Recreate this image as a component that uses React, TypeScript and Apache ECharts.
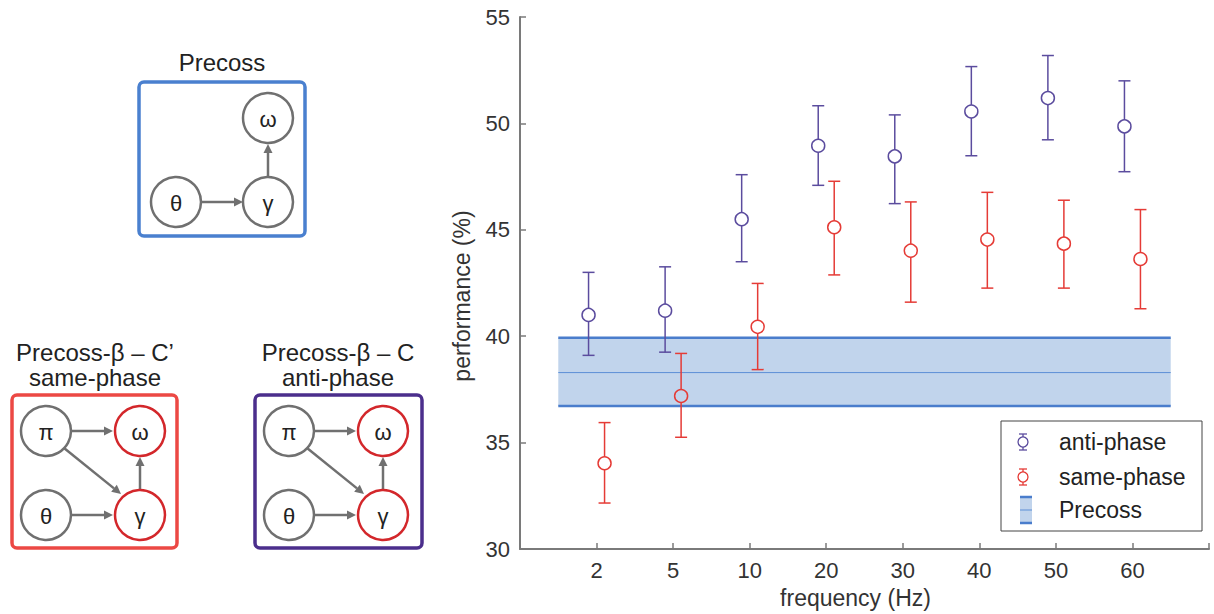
import React, { useEffect, useRef } from "react";
import * as echarts from "echarts";

const categories = ["2", "5", "10", "20", "30", "40", "50", "60"];
const antiMean = [41.0, 41.2, 45.5, 48.95, 48.45, 50.56, 51.19, 49.86];
const antiLow = [39.1, 39.25, 43.5, 47.09, 46.23, 48.48, 49.23, 47.73];
const antiHigh = [43.0, 43.26, 47.59, 50.83, 50.4, 52.67, 53.19, 52.0];
const sameMean = [34.03, 37.19, 40.44, 45.12, 44.02, 44.54, 44.35, 43.63];
const sameLow = [32.16, 35.25, 38.43, 42.88, 41.6, 42.26, 42.26, 41.29];
const sameHigh = [35.94, 39.19, 42.48, 47.28, 46.31, 46.76, 46.39, 45.95];
const precossMean = 38.29;
const precossLow = 36.72;
const precossHigh = 39.93;
const precossSpan = [0.5, 8.5];
const yTicks = [30, 35, 40, 45, 50, 55];
const legendNames = ["anti-phase", "same-phase", "Precoss"];

const FONT = "'Liberation Sans', Arial, sans-serif";
const ANTI = "#5b4c9e";
const SAME = "#e53b36";
const BAND_FILL = "#c1d4ec";
const BAND_LINE = "#4a7dcc";
const GRAY = "#707070";
const RED_NODE = "#d3272b";

function makeErr(color: string, dx: number) {
  return (params: any, api: any) => {
    const x = api.value(0);
    const m = api.value(1);
    const lo = api.value(2);
    const hi = api.value(3);
    const pm = api.coord([x, m]);
    const pl = api.coord([x, lo]);
    const ph = api.coord([x, hi]);
    const cx = pm[0] + dx;
    const r = 6.5;
    const cap = 6;
    const style = { stroke: color, lineWidth: 1.5, fill: "none" };
    return {
      type: "group",
      children: [
        { type: "line", shape: { x1: cx, y1: ph[1], x2: cx, y2: pm[1] - r }, style },
        { type: "line", shape: { x1: cx, y1: pm[1] + r, x2: cx, y2: pl[1] }, style },
        { type: "line", shape: { x1: cx - cap, y1: ph[1], x2: cx + cap, y2: ph[1] }, style },
        { type: "line", shape: { x1: cx - cap, y1: pl[1], x2: cx + cap, y2: pl[1] }, style },
        { type: "circle", shape: { cx, cy: pm[1], r }, style },
      ],
    };
  };
}

function bandRender(params: any, api: any) {
  const x0 = api.value(0);
  const x1 = api.value(1);
  const lo = api.value(2);
  const mean = api.value(3);
  const hi = api.value(4);
  const a = api.coord([x0, hi]);
  const b = api.coord([x1, lo]);
  const mm = api.coord([x0, mean]);
  return {
    type: "group",
    children: [
      { type: "rect", shape: { x: a[0], y: a[1], width: b[0] - a[0], height: b[1] - a[1] }, style: { fill: BAND_FILL } },
      { type: "line", shape: { x1: a[0], y1: a[1], x2: b[0], y2: a[1] }, style: { stroke: BAND_LINE, lineWidth: 2.5 } },
      { type: "line", shape: { x1: a[0], y1: b[1], x2: b[0], y2: b[1] }, style: { stroke: BAND_LINE, lineWidth: 2.5 } },
      { type: "line", shape: { x1: a[0], y1: mm[1], x2: b[0], y2: mm[1] }, style: { stroke: "#5d8fd6", lineWidth: 1 } },
    ],
  };
}

function node(cx: number, cy: number, label: string, color: string): any[] {
  return [
    { type: "circle", shape: { cx, cy, r: 25 }, style: { stroke: color, lineWidth: 2.5, fill: "#fff" }, z: 10 },
    {
      type: "text",
      x: cx,
      y: cy + 1,
      style: { text: label, fontSize: 22, fontFamily: FONT, fill: "#222", align: "center", verticalAlign: "middle" },
      z: 11,
    },
  ];
}

function arrow(x1: number, y1: number, x2: number, y2: number): any[] {
  const len = Math.hypot(x2 - x1, y2 - y1);
  const ux = (x2 - x1) / len;
  const uy = (y2 - y1) / len;
  const hl = 9;
  const hw = 4.5;
  const bx = x2 - ux * hl;
  const by = y2 - uy * hl;
  return [
    { type: "line", shape: { x1, y1, x2: bx, y2: by }, style: { stroke: GRAY, lineWidth: 2.5 }, z: 10 },
    {
      type: "polygon",
      shape: { points: [[x2, y2], [bx - uy * hw, by + ux * hw], [bx + uy * hw, by - ux * hw]] },
      style: { fill: GRAY },
      z: 10,
    },
  ];
}

function title(x: number, y: number, text: string): any {
  return {
    type: "text",
    x,
    y,
    style: { text, fontSize: 24, fontFamily: FONT, fill: "#222", align: "center", verticalAlign: "middle" },
    z: 10,
  };
}

function box(x: number, y: number, w: number, h: number, color: string): any {
  return {
    type: "rect",
    shape: { x, y, width: w, height: h, r: 5 },
    style: { stroke: color, lineWidth: 3.5, fill: "none" },
    z: 9,
  };
}

function betaDiagram(dx: number, color: string, l1: string, l2: string, w: number): any[] {
  return [
    title(95 + dx, 352, l1),
    title(95 + dx, 377, l2),
    box(12 + dx, 395, w, 153, color),
    ...arrow(72 + dx, 431, 113 + dx, 431),
    ...arrow(72 + dx, 515, 113 + dx, 515),
    ...arrow(64 + dx, 448, 121 + dx, 494),
    ...arrow(140 + dx, 489, 140 + dx, 457),
    ...node(46 + dx, 431, "π", GRAY),
    ...node(140 + dx, 431, "ω", RED_NODE),
    ...node(46 + dx, 515, "θ", GRAY),
    ...node(140 + dx, 515, "γ", RED_NODE),
  ];
}

function legendGraphics(): any[] {
  const lx = 1023;
  const ys = [442, 477, 510];
  const out: any[] = [
    { type: "rect", shape: { x: 1001, y: 421, width: 201, height: 110 }, style: { stroke: "#444", lineWidth: 1, fill: "#fff" }, z: 20 },
  ];
  [ANTI, SAME].forEach((c, i) => {
    const y = ys[i];
    const st = { stroke: c, lineWidth: 1.3, fill: "none" };
    out.push(
      { type: "line", shape: { x1: lx, y1: y - 8, x2: lx, y2: y - 5 }, style: st, z: 21 },
      { type: "line", shape: { x1: lx, y1: y + 5, x2: lx, y2: y + 8 }, style: st, z: 21 },
      { type: "line", shape: { x1: lx - 4, y1: y - 8, x2: lx + 4, y2: y - 8 }, style: st, z: 21 },
      { type: "line", shape: { x1: lx - 4, y1: y + 8, x2: lx + 4, y2: y + 8 }, style: st, z: 21 },
      { type: "circle", shape: { cx: lx, cy: y, r: 5 }, style: st, z: 21 }
    );
  });
  const py = ys[2];
  out.push(
    { type: "rect", shape: { x: 1020, y: py - 13, width: 12, height: 26 }, style: { fill: BAND_FILL }, z: 21 },
    { type: "line", shape: { x1: 1020, y1: py - 13, x2: 1032, y2: py - 13 }, style: { stroke: BAND_LINE, lineWidth: 2.5 }, z: 21 },
    { type: "line", shape: { x1: 1020, y1: py + 13, x2: 1032, y2: py + 13 }, style: { stroke: BAND_LINE, lineWidth: 2.5 }, z: 21 },
    { type: "line", shape: { x1: 1020, y1: py, x2: 1032, y2: py }, style: { stroke: "#5d8fd6", lineWidth: 1 }, z: 21 }
  );
  legendNames.forEach((n, i) => {
    out.push({
      type: "text",
      x: 1059,
      y: ys[i],
      style: { text: n, fontSize: 23, fontFamily: FONT, fill: "#222", align: "left", verticalAlign: "middle" },
      z: 21,
    });
  });
  return out;
}

export default function App() {
  const ref = useRef<HTMLDivElement>(null);
  useEffect(() => {
    if (!ref.current) return;
    const chart = echarts.init(ref.current, undefined, { renderer: "svg" });
    const antiData = categories.map((_, i) => [i + 1, antiMean[i], antiLow[i], antiHigh[i]]);
    const sameData = categories.map((_, i) => [i + 1, sameMean[i], sameLow[i], sameHigh[i]]);
    const graphics: any[] = [
      title(222, 62, "Precoss"),
      box(139, 82, 166, 154, "#4a80cf"),
      ...arrow(202, 202, 243, 202),
      ...arrow(268, 176, 268, 144),
      ...node(268, 118, "ω", GRAY),
      ...node(176, 202, "θ", GRAY),
      ...node(268, 202, "γ", GRAY),
      ...betaDiagram(0, "#ec4844", "Precoss-β – C’", "same-phase", 165),
      ...betaDiagram(243, "#4b2e8c", "Precoss-β – C", "anti-phase", 167),
      {
        type: "text",
        x: 462,
        y: 296,
        rotation: Math.PI / 2,
        style: {
          text: "performance (%)",
          fontSize: 23,
          fontFamily: FONT,
          fill: "#333",
          align: "center",
          verticalAlign: "middle",
        },
        z: 10,
      },
      ...legendGraphics(),
    ];
    chart.setOption({
      animation: false,
      textStyle: { fontFamily: FONT },
      grid: { left: 520, right: 5, top: 17, bottom: 64, containLabel: false },
      xAxis: {
        type: "value",
        min: 0,
        max: 9,
        interval: 1,
        name: "frequency (Hz)",
        nameLocation: "middle",
        nameGap: 37,
        nameTextStyle: { fontSize: 23, color: "#333", fontFamily: FONT, padding: [0, 18, 0, 0] },
        axisLine: { lineStyle: { color: "#7a7a7a", width: 2 } },
        axisTick: { inside: true, length: 6, lineStyle: { color: "#7a7a7a", width: 1.5 } },
        axisLabel: {
          fontSize: 22,
          color: "#333",
          margin: 10,
          formatter: (v: number) => categories[v - 1] ?? "",
        },
        splitLine: { show: false },
      },
      yAxis: {
        type: "value",
        min: yTicks[0],
        max: yTicks[yTicks.length - 1],
        interval: 5,
        axisLine: { show: true, lineStyle: { color: "#7a7a7a", width: 2 } },
        axisTick: { show: true, inside: true, length: 6, lineStyle: { color: "#7a7a7a", width: 1.5 } },
        axisLabel: { fontSize: 22, color: "#333", margin: 10 },
        splitLine: { show: false },
      },
      series: [
        {
          type: "custom",
          name: "Precoss",
          renderItem: bandRender,
          data: [[precossSpan[0], precossSpan[1], precossLow, precossMean, precossHigh]],
          encode: { x: [0, 1], y: [2, 4] },
          z: 1,
        },
        {
          type: "custom",
          name: "anti-phase",
          renderItem: makeErr(ANTI, -8),
          data: antiData,
          encode: { x: 0, y: [1, 2, 3] },
          z: 3,
        },
        {
          type: "custom",
          name: "same-phase",
          renderItem: makeErr(SAME, 8),
          data: sameData,
          encode: { x: 0, y: [1, 2, 3] },
          z: 3,
        },
      ],
      graphic: graphics,
    });
    return () => chart.dispose();
  }, []);
  return (
    <div
      ref={ref}
      style={{ position: "fixed", left: 0, top: 0, width: 1214, height: 614, background: "#fff" }}
    />
  );
}
